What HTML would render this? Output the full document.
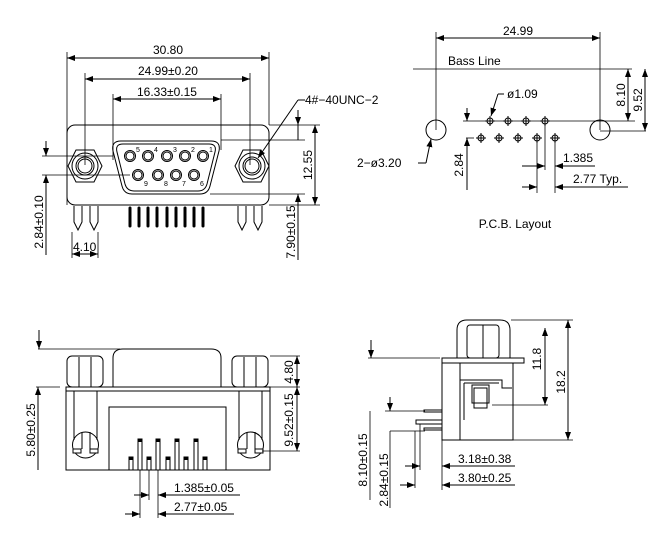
<!DOCTYPE html>
<html><head><meta charset="utf-8"><style>
html,body{margin:0;padding:0;background:#fff;}
svg{display:block;}
text{font-family:"Liberation Sans",sans-serif;font-size:12px;fill:#000;}
.s{font-size:7px;}
</style></head><body>
<svg width="654" height="536" viewBox="0 0 654 536" xmlns="http://www.w3.org/2000/svg" fill="none" stroke="#000" stroke-width="1">
<defs>
<marker id="a" markerWidth="8" markerHeight="6" refX="8" refY="3" orient="auto-start-reverse" markerUnits="userSpaceOnUse"><path d="M0,0 L8,3 L0,6 Z" fill="#000" stroke="none"/></marker>
<g id="nut"><polygon points="-17,0 -9,-16 9,-16 17,0 9,16 -9,16"/><circle r="13"/><circle r="9"/><circle r="7"/></g>
<g id="pin"><circle r="5.5"/><circle r="4"/></g>
<g id="hp"><circle r="3"/><line x1="-5" y1="0" x2="5" y2="0"/><line x1="0" y1="-5" x2="0" y2="5"/></g>
</defs>

<!-- ===== TOP LEFT FRONT VIEW ===== -->
<line x1="67" y1="52" x2="67" y2="205" stroke-width="0.8"/>
<line x1="269" y1="52" x2="269" y2="125" stroke-width="0.8"/>
<line x1="67" y1="58" x2="269" y2="58" marker-start="url(#a)" marker-end="url(#a)"/>
<text x="168" y="54" text-anchor="middle" stroke="none">30.80</text>
<line x1="85" y1="73" x2="85" y2="165" stroke-width="0.8"/>
<line x1="250" y1="73" x2="250" y2="165" stroke-width="0.8"/>
<line x1="85" y1="79" x2="250" y2="79" marker-start="url(#a)" marker-end="url(#a)"/>
<text x="168" y="75" text-anchor="middle" stroke="none">24.99±0.20</text>
<line x1="113" y1="94" x2="113" y2="160" stroke-width="0.8"/>
<line x1="221" y1="94" x2="221" y2="150" stroke-width="0.8"/>
<line x1="113" y1="99" x2="221" y2="99" marker-start="url(#a)" marker-end="url(#a)"/>
<text x="167" y="96" text-anchor="middle" stroke="none">16.33±0.15</text>

<rect x="67" y="125" width="202" height="80" rx="8"/>
<path d="M121,141 L211,141 Q221,141 219,151 L210,186 Q208,194 200,194 L132,194 Q124,194 122,186 L113,151 Q111,141 121,141 Z"/>
<path d="M123,144 L209,144 Q217,144 215,152 L207,184 Q205,191 198,191 L134,191 Q127,191 125,184 L117,152 Q115,144 123,144 Z"/>
<use href="#nut" x="85" y="166"/>
<use href="#nut" x="252" y="166"/>
<use href="#pin" x="130" y="156"/><use href="#pin" x="148" y="156"/><use href="#pin" x="167" y="156"/><use href="#pin" x="185" y="156"/><use href="#pin" x="203" y="156"/>
<use href="#pin" x="138" y="175"/><use href="#pin" x="158" y="175"/><use href="#pin" x="176" y="175"/><use href="#pin" x="194" y="175"/>
<g stroke="none">
<text class="s" x="136" y="152">5</text><text class="s" x="154" y="152">4</text><text class="s" x="173" y="152">3</text><text class="s" x="191" y="152">2</text><text class="s" x="209" y="152">1</text>
<text class="s" x="144" y="186">9</text><text class="s" x="164" y="186">8</text><text class="s" x="182" y="186">7</text><text class="s" x="200" y="186">6</text>
</g>
<g stroke-width="3" stroke-linecap="round">
<line x1="130" y1="208" x2="130" y2="226"/><line x1="139" y1="208" x2="139" y2="226"/><line x1="148" y1="208" x2="148" y2="226"/><line x1="157" y1="208" x2="157" y2="226"/><line x1="167" y1="208" x2="167" y2="226"/><line x1="176" y1="208" x2="176" y2="226"/><line x1="185" y1="208" x2="185" y2="226"/><line x1="194" y1="208" x2="194" y2="226"/><line x1="203" y1="208" x2="203" y2="226"/>
</g>
<path d="M74,206 L74,222 L78,230 L82,222 L82,206"/><path d="M90,206 L90,222 L94,230 L98,222 L98,206"/>
<path d="M238,206 L238,222 L242,230 L246,222 L246,206"/><path d="M254,206 L254,222 L258,230 L262,222 L262,206"/>
<line x1="42" y1="156" x2="113" y2="156" stroke-width="0.8"/>
<line x1="42" y1="175" x2="130" y2="175" stroke-width="0.8"/>
<line x1="46" y1="141" x2="46" y2="156" marker-end="url(#a)"/>
<line x1="46" y1="255" x2="46" y2="175" marker-end="url(#a)"/>
<text transform="translate(43,222) rotate(-90)" text-anchor="middle" stroke="none">2.84±0.10</text>
<line x1="72" y1="232" x2="72" y2="258" stroke-width="0.8"/>
<line x1="98" y1="232" x2="98" y2="258" stroke-width="0.8"/>
<line x1="72" y1="254" x2="98" y2="254" marker-start="url(#a)" marker-end="url(#a)"/>
<text x="73" y="251" stroke="none">4.10</text>
<line x1="221" y1="140" x2="305" y2="140" stroke-width="0.8"/>
<line x1="269" y1="125" x2="320" y2="125" stroke-width="0.8"/>
<line x1="210" y1="194" x2="305" y2="194" stroke-width="0.8"/>
<line x1="269" y1="205" x2="320" y2="205" stroke-width="0.8"/>
<line x1="298" y1="110" x2="298" y2="125" marker-end="url(#a)"/>
<line x1="298" y1="140" x2="298" y2="125"/>
<line x1="298" y1="260" x2="298" y2="194" marker-end="url(#a)"/>
<text transform="translate(295,232) rotate(-90)" text-anchor="middle" stroke="none">7.90±0.15</text>
<line x1="315" y1="125" x2="315" y2="205" marker-start="url(#a)" marker-end="url(#a)"/>
<text transform="translate(312,165) rotate(-90)" text-anchor="middle" stroke="none">12.55</text>
<line x1="305" y1="100" x2="298" y2="100"/>
<line x1="298" y1="100" x2="258" y2="158" marker-end="url(#a)"/>
<text x="305" y="104" stroke="none">4#−40UNC−2</text>

<!-- ===== PCB LAYOUT ===== -->
<line x1="436" y1="32" x2="436" y2="130" stroke-width="0.8"/>
<line x1="600" y1="32" x2="600" y2="130" stroke-width="0.8"/>
<line x1="436" y1="38" x2="600" y2="38" marker-start="url(#a)" marker-end="url(#a)"/>
<text x="518" y="35" text-anchor="middle" stroke="none">24.99</text>
<line x1="413" y1="69" x2="632" y2="69" stroke-width="0.8"/>
<text x="448" y="65" stroke="none">Bass Line</text>
<circle cx="436" cy="130" r="10"/>
<circle cx="600" cy="130" r="10"/>
<line x1="463" y1="121" x2="635" y2="121" stroke-width="0.8"/>
<line x1="466" y1="138" x2="474" y2="138" stroke-width="0.8"/>
<line x1="600" y1="131" x2="646" y2="131" stroke-width="0.8"/>
<use href="#hp" x="490" y="121"/><use href="#hp" x="508" y="121"/><use href="#hp" x="526" y="121"/><use href="#hp" x="545" y="121"/>
<use href="#hp" x="481" y="138"/><use href="#hp" x="499" y="138"/><use href="#hp" x="518" y="138"/><use href="#hp" x="537" y="138"/><use href="#hp" x="555" y="138"/>
<line x1="504" y1="94" x2="498" y2="94"/><line x1="498" y1="94" x2="491" y2="116" marker-end="url(#a)"/>
<text x="507" y="98" stroke="none">ø1.09</text>
<line x1="418" y1="163" x2="426" y2="163"/><line x1="426" y1="163" x2="431" y2="139" marker-end="url(#a)"/>
<text x="357" y="167" stroke="none">2−ø3.20</text>
<line x1="467" y1="108" x2="467" y2="121" marker-end="url(#a)"/>
<line x1="467" y1="190" x2="467" y2="138" marker-end="url(#a)"/>
<text transform="translate(463,165) rotate(-90)" text-anchor="middle" stroke="none">2.84</text>
<line x1="537" y1="138" x2="537" y2="193" stroke-width="0.8"/>
<line x1="545" y1="121" x2="545" y2="170" stroke-width="0.8"/>
<line x1="555" y1="138" x2="555" y2="193" stroke-width="0.8"/>
<line x1="522" y1="166" x2="545" y2="166" marker-end="url(#a)"/>
<line x1="595" y1="166" x2="555" y2="166" marker-end="url(#a)"/>
<text x="563" y="162" stroke="none">1.385</text>
<line x1="522" y1="187" x2="537" y2="187" marker-end="url(#a)"/>
<line x1="628" y1="187" x2="555" y2="187" marker-end="url(#a)"/>
<text x="573" y="183" stroke="none">2.77 Typ.</text>
<line x1="628" y1="69" x2="628" y2="121" marker-start="url(#a)" marker-end="url(#a)"/>
<text transform="translate(625,95) rotate(-90)" text-anchor="middle" stroke="none">8.10</text>
<line x1="645" y1="69" x2="645" y2="131" marker-start="url(#a)" marker-end="url(#a)"/>
<text transform="translate(642,100) rotate(-90)" text-anchor="middle" stroke="none">9.52</text>
<text x="515" y="228" text-anchor="middle" stroke="none">P.C.B. Layout</text>

<!-- ===== BOTTOM LEFT VIEW ===== -->
<line x1="38" y1="349" x2="120" y2="349" stroke-width="0.8"/>
<line x1="39" y1="330" x2="39" y2="349" marker-end="url(#a)"/>
<path d="M113,387 L113,358 Q113,349 123,349 L211,349 Q221,349 221,358 L221,387"/>
<rect x="67" y="356" width="36" height="31" rx="5"/>
<line x1="79" y1="357" x2="79" y2="387"/><line x1="91" y1="357" x2="91" y2="387"/>
<rect x="232" y="356" width="36" height="31" rx="5"/>
<line x1="244" y1="357" x2="244" y2="387"/><line x1="256" y1="357" x2="256" y2="387"/>
<rect x="66" y="387" width="204" height="83"/>
<line x1="66" y1="391" x2="270" y2="391"/>
<rect x="109" y="407" width="117" height="63"/>
<line x1="74" y1="391" x2="74" y2="440"/><line x1="97" y1="391" x2="97" y2="440"/>
<circle cx="85.5" cy="445" r="13"/>
<line x1="82" y1="432" x2="82" y2="449"/><line x1="90" y1="432" x2="90" y2="449"/>
<line x1="239" y1="391" x2="239" y2="440"/><line x1="262" y1="391" x2="262" y2="440"/>
<circle cx="250.5" cy="445" r="13"/>
<line x1="247" y1="432" x2="247" y2="449"/><line x1="255" y1="432" x2="255" y2="449"/>
<rect x="73" y="449" width="8" height="4" fill="#fff"/><rect x="90" y="449" width="8" height="4" fill="#fff"/>
<rect x="238" y="449" width="8" height="4" fill="#fff"/><rect x="255" y="449" width="8" height="4" fill="#fff"/>
<g fill="#fff">
<rect x="138" y="439" width="4" height="31"/><rect x="156" y="439" width="4" height="31"/><rect x="175" y="439" width="4" height="31"/><rect x="194" y="439" width="4" height="31"/>
<rect x="129" y="457" width="4" height="13"/><rect x="147" y="457" width="4" height="13"/><rect x="166" y="457" width="4" height="13"/><rect x="184" y="457" width="4" height="13"/><rect x="203" y="457" width="4" height="13"/>
</g>
<g fill="#000" stroke="none">
<rect x="138" y="439" width="4" height="3"/><rect x="156" y="439" width="4" height="3"/><rect x="175" y="439" width="4" height="3"/><rect x="194" y="439" width="4" height="3"/>
<rect x="129" y="457" width="4" height="3"/><rect x="147" y="457" width="4" height="3"/><rect x="166" y="457" width="4" height="3"/><rect x="184" y="457" width="4" height="3"/><rect x="203" y="457" width="4" height="3"/>
</g>
<line x1="36" y1="387" x2="60" y2="387" stroke-width="0.8"/>
<line x1="38" y1="470" x2="38" y2="387" marker-end="url(#a)"/>
<text transform="translate(35,430) rotate(-90)" text-anchor="middle" stroke="none">5.80±0.25</text>
<line x1="270" y1="356" x2="300" y2="356" stroke-width="0.8"/>
<line x1="270" y1="387" x2="300" y2="387" stroke-width="0.8"/>
<line x1="262" y1="451" x2="300" y2="451" stroke-width="0.8"/>
<line x1="297" y1="356" x2="297" y2="387" marker-start="url(#a)" marker-end="url(#a)"/>
<text transform="translate(293,372) rotate(-90)" text-anchor="middle" stroke="none">4.80</text>
<line x1="297" y1="387" x2="297" y2="451" marker-start="url(#a)" marker-end="url(#a)"/>
<text transform="translate(293,420) rotate(-90)" text-anchor="middle" stroke="none">9.52±0.15</text>
<line x1="140" y1="470" x2="140" y2="518" stroke-width="0.8"/>
<line x1="149" y1="470" x2="149" y2="500" stroke-width="0.8"/>
<line x1="158" y1="470" x2="158" y2="518" stroke-width="0.8"/>
<line x1="134" y1="495" x2="149" y2="495" marker-end="url(#a)"/>
<line x1="240" y1="495" x2="158" y2="495" marker-end="url(#a)"/>
<text x="174" y="492" stroke="none">1.385±0.05</text>
<line x1="125" y1="514" x2="140" y2="514" marker-end="url(#a)"/>
<line x1="234" y1="514" x2="158" y2="514" marker-end="url(#a)"/>
<text x="174" y="511" stroke="none">2.77±0.05</text>

<!-- ===== BOTTOM RIGHT SIDE VIEW ===== -->
<line x1="368" y1="358" x2="440" y2="358" stroke-width="0.8"/>
<line x1="371" y1="340" x2="371" y2="358" marker-end="url(#a)"/>
<path d="M457,358 L457,330 Q457,320 467,320 L500,320 Q510,320 510,330 L510,358"/>
<rect x="467" y="325" width="32" height="33" rx="3"/>
<line x1="483" y1="325" x2="483" y2="358"/>
<rect x="442" y="358" width="82" height="5"/>
<rect x="442" y="363" width="71" height="77"/>
<line x1="460" y1="363" x2="460" y2="440"/>
<path d="M460,380 L502,380 L502,388 L512,388"/>
<path d="M464,383 L499,383"/>
<line x1="464" y1="383" x2="464" y2="420"/>
<rect x="472" y="385" width="17" height="18"/>
<rect x="474" y="388" width="13" height="20"/>
<line x1="492" y1="405" x2="548" y2="405" stroke-width="0.8"/>
<line x1="511" y1="320" x2="573" y2="320" stroke-width="0.8"/>
<line x1="513" y1="440" x2="573" y2="440" stroke-width="0.8"/>
<line x1="545" y1="328" x2="545" y2="405" marker-start="url(#a)" marker-end="url(#a)"/>
<text transform="translate(541,359) rotate(-90)" text-anchor="middle" stroke="none">11.8</text>
<line x1="568" y1="320" x2="568" y2="440" marker-start="url(#a)" marker-end="url(#a)"/>
<text transform="translate(565,382) rotate(-90)" text-anchor="middle" stroke="none">18.2</text>
<rect x="424" y="410" width="18" height="2" fill="#fff"/>
<rect x="416" y="420" width="26" height="4" fill="#fff"/>
<rect x="424" y="428" width="18" height="2" fill="#fff"/>
<line x1="385" y1="411" x2="425" y2="411" stroke-width="0.8"/>
<line x1="390" y1="431" x2="425" y2="431" stroke-width="0.8"/>
<line x1="390" y1="397" x2="390" y2="411" marker-end="url(#a)"/>
<line x1="370" y1="411" x2="370" y2="500" stroke-width="0.8"/>
<line x1="390" y1="431" x2="390" y2="508" stroke-width="0.8"/>
<text transform="translate(367,460) rotate(-90)" text-anchor="middle" stroke="none">8.10±0.15</text>
<text transform="translate(388,480) rotate(-90)" text-anchor="middle" stroke="none">2.84±0.15</text>
<line x1="420" y1="424" x2="420" y2="470" stroke-width="0.8"/>
<line x1="415" y1="431" x2="415" y2="488" stroke-width="0.8"/>
<line x1="442" y1="440" x2="442" y2="490" stroke-width="0.8"/>
<line x1="405" y1="466" x2="420" y2="466" marker-end="url(#a)"/>
<line x1="515" y1="466" x2="442" y2="466" marker-end="url(#a)"/>
<text x="458" y="463" stroke="none">3.18±0.38</text>
<line x1="400" y1="485" x2="415" y2="485" marker-end="url(#a)"/>
<line x1="515" y1="485" x2="442" y2="485" marker-end="url(#a)"/>
<text x="458" y="482" stroke="none">3.80±0.25</text>
</svg>
</body></html>
